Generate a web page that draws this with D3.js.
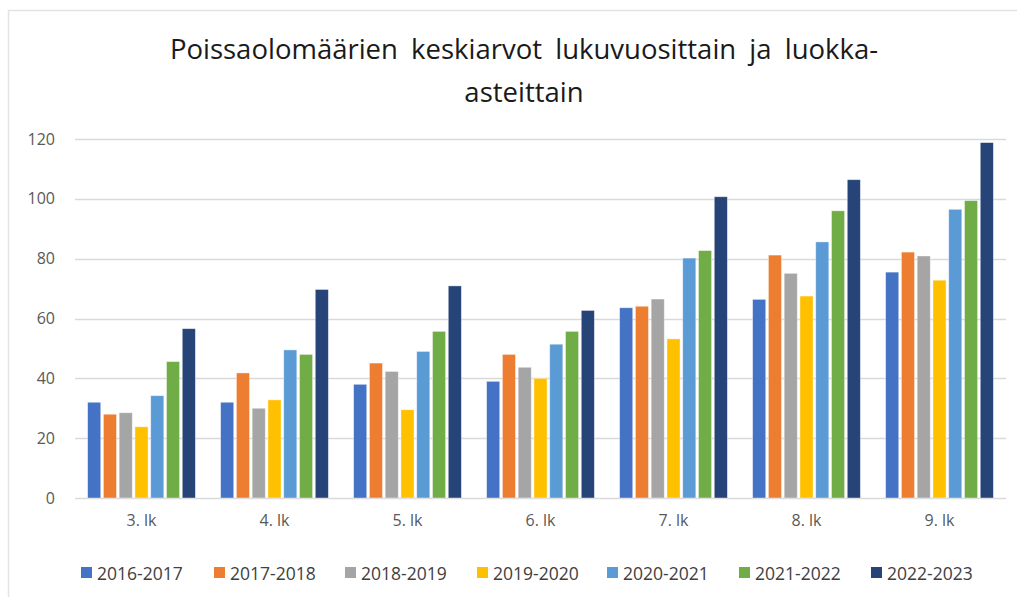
<!DOCTYPE html>
<html>
<head>
<meta charset="utf-8">
<script src="https://cdn.jsdelivr.net/npm/d3@7"></script>
<style>
  body { margin: 0; background: #fff; }
  svg text { font-family: "Open Sans", "Noto Sans", sans-serif; }
</style>
</head>
<body>
<svg id="chart" width="1017" height="597"></svg>
<script>
// data
const grades = ['3. lk', '4. lk', '5. lk', '6. lk', '7. lk', '8. lk', '9. lk'];
const years = ['2016-2017', '2017-2018', '2018-2019', '2019-2020', '2020-2021', '2021-2022', '2022-2023'];
const colors = ['#4472C4', '#ED7D31', '#A5A5A5', '#FFC000', '#5B9BD5', '#70AD47', '#264478'];

// one array per school year, values per grade
const y2016 = [32, 32, 38, 39, 63.6, 66.4, 75.5];
const y2017 = [28, 41.8, 45.1, 48, 64.1, 81.2, 82.2];
const y2018 = [28.5, 30, 42.3, 43.7, 66.5, 75.1, 80.9];
const y2019 = [23.8, 32.8, 29.5, 40, 53.2, 67.5, 72.8];
const y2020 = [34.2, 49.5, 49, 51.4, 80.2, 85.6, 96.5];
const y2021 = [45.6, 48, 55.7, 55.7, 82.7, 96, 99.4];
const y2022 = [56.6, 69.7, 70.9, 62.7, 100.7, 106.4, 118.8];
const series = [y2016, y2017, y2018, y2019, y2020, y2021, y2022];

const yTicks = [0, 20, 40, 60, 80, 100, 120];

const svg = d3.select('#chart');

// chart frame (only top and left edges show in the screenshot)
svg.append('path')
  .attr('d', 'M8.5,600 V10.5 H1017')
  .attr('fill', 'none')
  .attr('stroke', '#e3e3e3')
  .attr('stroke-width', 1.5);

const margin = { left: 75, right: 11, top: 139, bottom: 99 };
const width = 1017 - margin.left - margin.right;
const height = 597 - margin.top - margin.bottom;

const g = svg.append('g').attr('transform', `translate(${margin.left},${margin.top})`);

const x0 = d3.scaleBand().domain(grades).range([0, width]).paddingInner(0.19).paddingOuter(0.095);
const x1 = d3.scaleBand().domain(years).range([0, x0.bandwidth()]).paddingInner(0.17);
const y = d3.scaleLinear().domain([0, 120]).range([height, 0]);

// gridlines
g.append('g')
  .selectAll('line')
  .data(yTicks)
  .join('line')
  .attr('x1', 0)
  .attr('x2', width)
  .attr('y1', d => Math.round(y(d)) + 0.5)
  .attr('y2', d => Math.round(y(d)) + 0.5)
  .attr('stroke', '#d9d9d9')
  .attr('stroke-width', 1.3);

// y labels
const yAxis = d3.axisLeft(y).tickValues(yTicks).tickSize(0).tickPadding(20);
g.append('g')
  .call(yAxis)
  .call(a => a.select('.domain').remove())
  .selectAll('text')
  .attr('font-size', 16)
  .attr('fill', '#595959')
  .attr('font-family', '"Open Sans", sans-serif');

// bars
const groups = g.append('g')
  .selectAll('g')
  .data(grades)
  .join('g')
  .attr('transform', d => `translate(${x0(d)},0)`);

groups.selectAll('rect')
  .data((d, i) => years.map((yr, j) => ({ yr, j, v: series[j][i] })))
  .join('rect')
  .attr('x', d => x1(d.yr))
  .attr('y', d => y(d.v))
  .attr('width', x1.bandwidth())
  .attr('height', d => y(0) - y(d.v))
  .attr('fill', d => colors[d.j])
  .attr('stroke', '#fff')
  .attr('stroke-opacity', 0.5)
  .attr('stroke-width', 0.8);

// x labels
const xAxis = d3.axisBottom(x0).tickSize(0).tickPadding(17);
g.append('g')
  .attr('transform', `translate(0,${height})`)
  .call(xAxis)
  .call(a => a.select('.domain').remove())
  .selectAll('text')
  .attr('font-size', 16)
  .attr('fill', '#595959')
  .attr('font-family', '"Open Sans", sans-serif');

// title
const title = svg.append('text')
  .attr('text-anchor', 'middle')
  .attr('fill', '#1a1a1a')
  .attr('font-size', 27.5)
  .attr('font-family', '"Open Sans", sans-serif')
  .style('word-spacing', '6px');
title.append('tspan').attr('x', 524).attr('y', 59).text('Poissaolomäärien keskiarvot lukuvuosittain ja luokka-');
title.append('tspan').attr('x', 524).attr('y', 102).text('asteittain');

// legend
const legend = svg.append('g').attr('transform', 'translate(0,573)');
const itemStarts = [81, 214, 345, 477, 607, 739, 871];
const items = legend.selectAll('g')
  .data(years)
  .join('g')
  .attr('transform', (d, i) => `translate(${itemStarts[i]},0)`);
items.append('rect')
  .attr('x', 0).attr('y', -6)
  .attr('width', 11).attr('height', 11)
  .attr('fill', (d, i) => colors[i]);
items.append('text')
  .attr('x', 16).attr('y', 6.5)
  .attr('font-size', 17.5)
  .attr('fill', '#404040')
  .text(d => d);
</script>
</body>
</html>
